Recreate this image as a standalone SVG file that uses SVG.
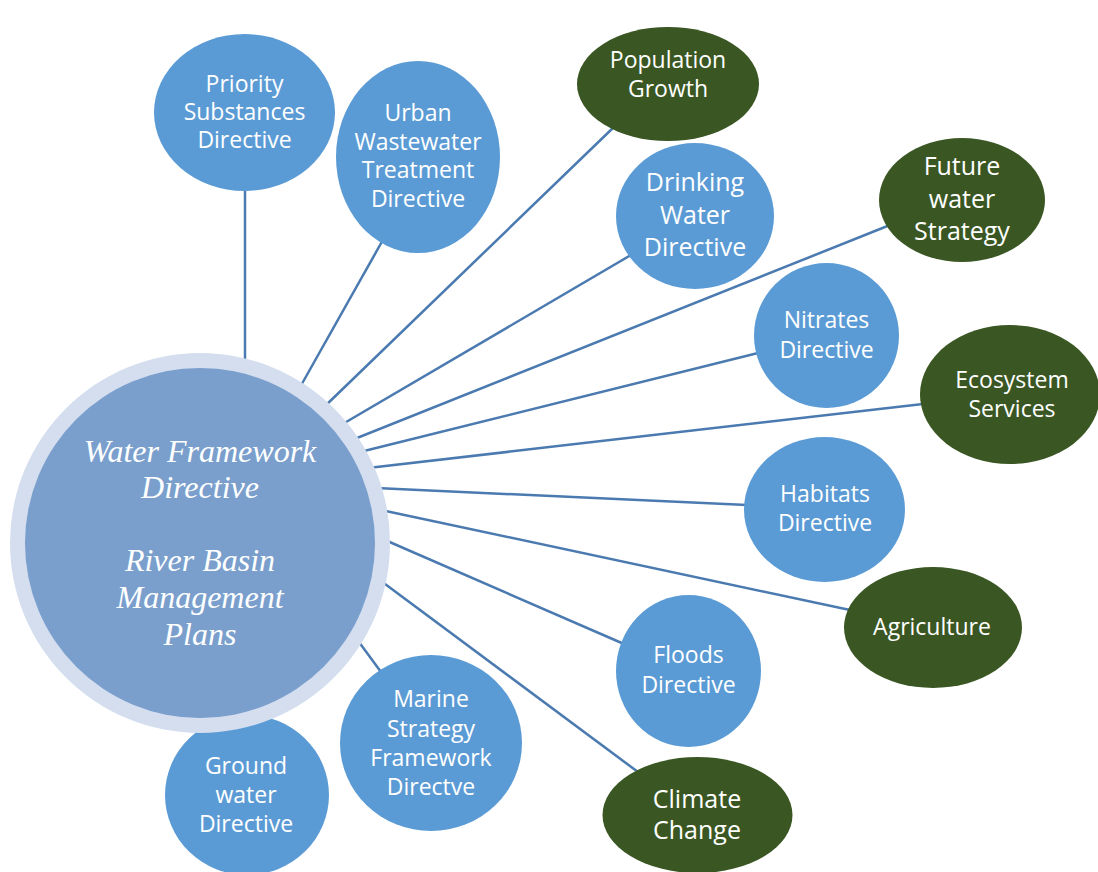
<svg xmlns="http://www.w3.org/2000/svg" width="1098" height="872" viewBox="0 0 1098 872">
<style>
.blue{fill:#5b9bd5}
.green{fill:#3a5723}
.t{font-family:"Open Sans","Liberation Sans",sans-serif;fill:#fff;text-anchor:middle}
.s23{font-size:23px}
.s25{font-size:25px}
.c{font-family:"Liberation Serif",serif;font-style:italic;font-size:32px;fill:#fff;text-anchor:middle}
#connectors line{stroke:#4a7ab0;stroke-width:2.5;fill:none}
</style>
<rect width="1098" height="872" fill="#fff"/>
<g id="connectors">
<line x1="245" y1="185" x2="245" y2="365"/>
<line x1="384" y1="238" x2="299" y2="389"/>
<line x1="615" y1="126" x2="323" y2="408"/>
<line x1="631" y1="255" x2="341" y2="425"/>
<line x1="890" y1="225" x2="352" y2="440"/>
<line x1="758" y1="353" x2="360" y2="452"/>
<line x1="923" y1="404" x2="368" y2="468"/>
<line x1="747" y1="505" x2="376" y2="488"/>
<line x1="850" y1="610" x2="381" y2="510"/>
<line x1="624" y1="644" x2="385" y2="540"/>
<line x1="638" y1="772" x2="381" y2="581"/>
<line x1="381" y1="672" x2="356" y2="638"/>
</g>
<g id="ground-water">
<ellipse class="blue" cx="247" cy="795" rx="82" ry="80"/>
<text class="t s23"><tspan x="246" y="774">Ground</tspan><tspan x="246" y="803">water</tspan><tspan x="246" y="832">Directive</tspan></text>
</g>
<g id="central">
<circle cx="200" cy="543" r="190" fill="#d4deef"/>
<circle cx="200" cy="543" r="175" fill="#7a9fcd"/>
<text class="c"><tspan x="200" y="462">Water Framework</tspan><tspan x="200" y="498">Directive</tspan><tspan x="200" y="571">River Basin</tspan><tspan x="200" y="608">Management</tspan><tspan x="200" y="645">Plans</tspan></text>
</g>
<g id="priority">
<ellipse class="blue" cx="244.5" cy="112.5" rx="90.5" ry="78.5"/>
<text class="t s23"><tspan x="244.5" y="92">Priority</tspan><tspan x="244.5" y="120">Substances</tspan><tspan x="244.5" y="148">Directive</tspan></text>
</g>
<g id="urban">
<ellipse class="blue" cx="418" cy="157" rx="82" ry="96"/>
<text class="t s23"><tspan x="418" y="121">Urban</tspan><tspan x="418" y="150">Wastewater</tspan><tspan x="418" y="178">Treatment</tspan><tspan x="418" y="207">Directive</tspan></text>
</g>
<g id="population">
<ellipse class="green" cx="668" cy="84" rx="91" ry="57"/>
<text class="t s23"><tspan x="668" y="68">Population</tspan><tspan x="668" y="97">Growth</tspan></text>
</g>
<g id="drinking">
<ellipse class="blue" cx="695" cy="216" rx="79" ry="73"/>
<text class="t s25"><tspan x="695" y="191">Drinking</tspan><tspan x="695" y="224">Water</tspan><tspan x="695" y="256">Directive</tspan></text>
</g>
<g id="future">
<ellipse class="green" cx="962" cy="200" rx="83" ry="62"/>
<text class="t s25"><tspan x="962" y="175">Future</tspan><tspan x="962" y="208">water</tspan><tspan x="962" y="240">Strategy</tspan></text>
</g>
<g id="nitrates">
<ellipse class="blue" cx="826.5" cy="335.5" rx="72.5" ry="72.5"/>
<text class="t s23"><tspan x="826.5" y="328">Nitrates</tspan><tspan x="826.5" y="358">Directive</tspan></text>
</g>
<g id="ecosystem">
<ellipse class="green" cx="1010" cy="394.5" rx="90" ry="69.5"/>
<text class="t s23"><tspan x="1012" y="388">Ecosystem</tspan><tspan x="1012" y="417">Services</tspan></text>
</g>
<g id="habitats">
<ellipse class="blue" cx="824.5" cy="509.5" rx="80.5" ry="72.5"/>
<text class="t s23"><tspan x="825" y="502">Habitats</tspan><tspan x="825" y="531">Directive</tspan></text>
</g>
<g id="agriculture">
<ellipse class="green" cx="933" cy="627.5" rx="89" ry="60.5"/>
<text class="t s23" x="932" y="635">Agriculture</text>
</g>
<g id="floods">
<ellipse class="blue" cx="688.5" cy="671" rx="72.5" ry="76"/>
<text class="t s23"><tspan x="688.5" y="663">Floods</tspan><tspan x="688.5" y="693">Directive</tspan></text>
</g>
<g id="climate">
<ellipse class="green" cx="697.5" cy="815" rx="95" ry="58"/>
<text class="t s25"><tspan x="697" y="808">Climate</tspan><tspan x="697" y="839">Change</tspan></text>
</g>
<g id="marine">
<ellipse class="blue" cx="431" cy="743" rx="91" ry="88"/>
<text class="t s23"><tspan x="431" y="707">Marine</tspan><tspan x="431" y="737">Strategy</tspan><tspan x="431" y="766">Framework</tspan><tspan x="431" y="795">Directve</tspan></text>
</g>
</svg>
